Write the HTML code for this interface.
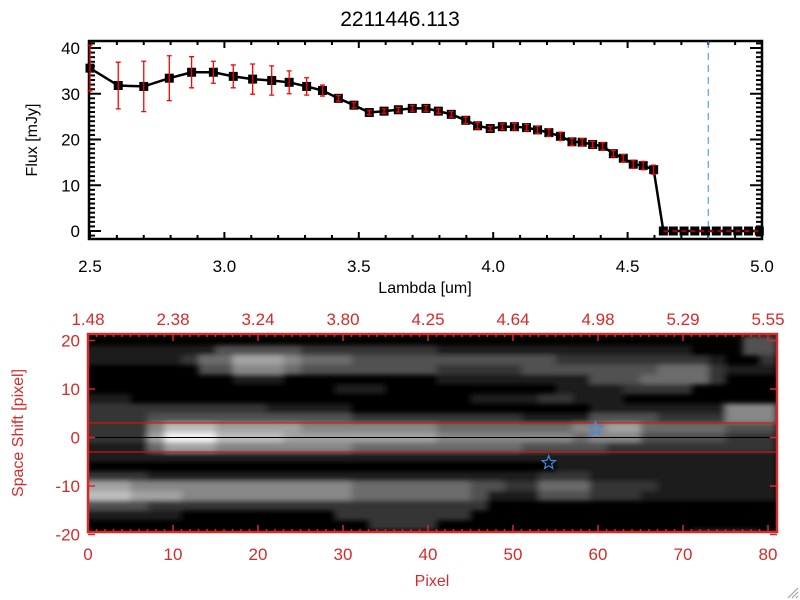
<!DOCTYPE html>
<html><head><meta charset="utf-8"><style>
html,body{margin:0;padding:0;background:#fff}
svg{display:block;font-family:"Liberation Sans",sans-serif}
</style></head><body>
<svg id="c" width="800" height="600" viewBox="0 0 800 600" xmlns="http://www.w3.org/2000/svg">
<defs>
<filter id="blur" x="-5%" y="-5%" width="110%" height="110%"><feGaussianBlur stdDeviation="3.5,2.5"/></filter>
<clipPath id="imgclip"><rect x="88" y="334" width="689" height="198"/></clipPath>
</defs>
<text x="400" y="26" font-size="21" text-anchor="middle">2211446.113</text>
<g id="topg"></g>
<g id="botg"></g>
<path d="M788 598 L798 588 M792 598 L798 592 M796 598 L798 596" stroke="#999" stroke-width="1"/>
</svg>
<script>
const NS="http://www.w3.org/2000/svg";
function mk(tag,attrs,parent){const e=document.createElementNS(NS,tag);for(const k in attrs)e.setAttribute(k,attrs[k]);parent.appendChild(e);return e;}

// ---------- Top chart data ----------
const lambda=[2.50,2.605,2.70,2.795,2.878,2.959,3.033,3.105,3.176,3.241,3.306,3.365,3.424,3.482,3.539,3.594,3.647,3.699,3.75,3.796,3.844,3.898,3.942,3.989,4.034,4.079,4.124,4.165,4.207,4.25,4.293,4.331,4.37,4.408,4.447,4.484,4.521,4.558,4.597,4.633,4.67,4.71,4.75,4.79,4.83,4.87,4.91,4.95,4.99];
const flux=[35.6,31.8,31.6,33.4,34.7,34.7,33.8,33.2,32.9,32.5,31.6,30.7,29.0,27.5,25.9,26.2,26.5,26.8,26.8,26.2,25.5,24.2,23.0,22.4,22.8,22.8,22.6,22.1,21.5,20.7,19.5,19.4,18.9,18.5,16.9,15.9,14.6,14.3,13.4,0,0,0,0,0,0,0,0,0,0];
const fluxErr=[5.0,5.1,5.5,4.9,3.4,2.4,2.5,3.3,3.2,2.5,1.9,1.2,0.6,0.6,0.5,0.5,0.5,0.6,0.6,0.5,0.6,0.7,0.7,0.5,0.6,0.7,0.7,0.8,0.8,0.9,0.8,0.8,0.7,0.8,0.7,0.8,0.9,0.9,1.0,0,0,0,0,0,0,0,0,0,0];
const xTicks=[2.5,3.0,3.5,4.0,4.5,5.0];
const yTicks=[0,10,20,30,40];
const cutLambda=4.8;

const T={l:89,r:762,t:41,b:239};
const tx=v=>90+(v-2.5)*268.8;
const ty=v=>231-v*4.575;
const topG=document.getElementById('topg');
for(let v=2.5;v<=5.0001;v+=0.1){const major=Math.abs(v*2-Math.round(v*2))<1e-6;const L=major?7:4;const x=tx(v);
 mk('line',{x1:x,x2:x,y1:T.b,y2:T.b-L,stroke:'#000','stroke-width':2},topG);
 mk('line',{x1:x,x2:x,y1:T.t,y2:T.t+L,stroke:'#000','stroke-width':2},topG);}
for(let v=-1;v<=41;v+=1){const major=v%10===0;const L=major?12:6;const y=ty(v);
 mk('line',{x1:T.l,x2:T.l+L,y1:y,y2:y,stroke:'#000','stroke-width':2},topG);
 mk('line',{x1:T.r,x2:T.r-L,y1:y,y2:y,stroke:'#000','stroke-width':2},topG);}
const fr=mk('rect',{x:T.l,y:T.t,width:T.r-T.l,height:T.b-T.t,fill:'none',stroke:'#000','stroke-width':2.5},topG);

xTicks.forEach(v=>{const t=mk('text',{x:tx(v),y:272,'font-size':17,'text-anchor':'middle'},topG);t.textContent=v.toFixed(1);
 
 });
yTicks.forEach(v=>{const t=mk('text',{x:80,y:ty(v)+6,'font-size':17,'text-anchor':'end'},topG);t.textContent=v;
 
 });
let t1=mk('text',{x:425,y:293,'font-size':16,'text-anchor':'middle'},topG);t1.textContent='Lambda [um]';

let t2=mk('text',{x:0,y:0,'font-size':16,'text-anchor':'middle',transform:'translate(37,140) rotate(-90)'},topG);t2.textContent='Flux [mJy]';

const cl=mk('line',{x1:tx(cutLambda),x2:tx(cutLambda),y1:T.t,y2:T.b,stroke:'#3a8ee0','stroke-width':1,'stroke-dasharray':'7,5'},topG);

const ln=mk('polyline',{points:lambda.map((v,i)=>tx(v)+','+ty(flux[i])).join(' '),fill:'none',stroke:'#000','stroke-width':2.5},topG);

lambda.forEach((v,i)=>{const x=tx(v),y=ty(flux[i]);
 const s=mk('rect',{x:x-4.5,y:y-4.5,width:9,height:9,fill:'#000'},topG);
 
 
 if(fluxErr[i]>0){const y1=ty(flux[i]+fluxErr[i]),y2=ty(flux[i]-fluxErr[i]);
  const e=mk('path',{d:`M${x} ${y1}V${y2}M${x-2.5} ${y1}H${x+2.5}M${x-2.5} ${y2}H${x+2.5}`,stroke:'#f00','stroke-width':1.3,fill:'none'},topG);
  
  }
});
const zl=mk('line',{x1:tx(4.633),x2:T.r,y1:ty(0),y2:ty(0),stroke:'#f00','stroke-width':1.3,'stroke-dasharray':'5,4'},topG);

</script>
<script>
// ---------- Bottom image data ----------
const pixTicks=[0,10,20,30,40,50,60,70,80];
const waveLabels=['1.48','2.38','3.24','3.80','4.25','4.64','4.98','5.29','5.55'];
const shiftTicks=[20,10,0,-10,-20];
const extractLines=[3,-3];
const stars=[[59.7,1.8],[54.2,-5.2]];
const rowY=[20,18,16,14,12,10,8,6,4,2,0,-2,-4,-6,-8,-10,-12,-14,-16,-18,-20];
const rowSegs=[
 [[78,80,3]],
 [[0,14,1],[16,24,3],[26,40,2],[42,70,1],[78,80,3]],
 [[0,10,1],[12,12,2],[14,16,4],[18,22,6],[24,24,5],[26,30,4],[32,54,3],[56,72,2],[74,74,1],[80,80,2]],
 [[14,16,3],[18,22,5],[24,24,4],[26,40,3],[42,50,2],[52,66,3],[68,72,4],[74,74,2],[76,80,1]],
 [[18,22,1],[42,58,1],[60,64,3],[66,72,4],[74,74,2]],
 [[30,34,1],[56,62,1],[64,70,2]],
 [[0,4,1],[46,52,1],[54,56,2],[58,62,1]],
 [[0,20,2],[22,30,1],[60,74,1],[76,80,5]],
 [[0,6,2],[8,30,3],[32,50,2],[52,58,1],[60,66,3],[68,74,2],[76,80,5]],
 [[0,6,2],[8,8,5],[10,14,7],[16,24,6],[26,40,5],[42,56,4],[58,60,5],[62,64,6],[66,74,4],[76,80,3]],
 [[0,6,2],[8,8,6],[10,14,9],[16,22,7],[24,40,6],[42,56,5],[58,58,4],[60,64,5],[66,74,3],[76,80,2]],
 [[0,6,1],[8,8,4],[10,14,6],[16,30,5],[32,50,4],[52,60,3],[62,80,2]],
 [[0,80,1]],
 [[56,80,1]],
 [[0,6,2],[8,52,1],[54,58,2],[60,80,1]],
 [[0,4,6],[6,30,5],[32,44,4],[46,48,3],[50,52,2],[54,58,4],[60,66,2],[68,80,1]],
 [[0,4,7],[6,10,6],[12,30,5],[32,44,4],[46,46,3],[48,52,1],[54,58,3],[60,64,2],[66,80,1]],
 [[0,6,3],[8,46,2]],
 [[0,10,1],[30,44,2]],
 [[34,40,2]],
 [[72,78,2]]
];
const B={l:88,r:777,t:334,b:532};
const bx=p=>88+p*8.5;
const by=v=>437.5-v*4.85;
const botG=document.getElementById('botg');
const RED='#d42a2a';
mk('rect',{x:B.l,y:B.t,width:B.r-B.l,height:B.b-B.t,fill:'#000'},botG);
const clipG=mk('g',{'clip-path':'url(#imgclip)'},botG);
const cells=mk('g',{filter:'url(#blur)'},clipG);


rowY.forEach((yv,ri)=>{rowSegs[ri].forEach(sg=>{for(let p=sg[0];p<=sg[1];p+=2){const g=Math.round(sg[2]*27);
 const x0=bx(p-1),x1=bx(p+1),y0=by(yv+1),y1=by(yv-1);
 const c=mk('rect',{x:x0,y:y0,width:x1-x0+0.3,height:y1-y0+0.3,fill:`rgb(${g},${g},${g})`},cells);
 
 }});});
const zl2=mk('line',{x1:B.l,x2:B.r,y1:by(0),y2:by(0),stroke:'#000','stroke-width':1},botG);

extractLines.forEach(v=>{const l=mk('line',{x1:B.l,x2:B.r,y1:by(v),y2:by(v),stroke:'#e01010','stroke-width':1.2},botG);
 
 });
function starPath(cx,cy,R,r){let d='';for(let i=0;i<10;i++){const a=-Math.PI/2+i*Math.PI/5,rr=i%2?r:R;d+=(i?'L':'M')+(cx+rr*Math.cos(a)).toFixed(1)+' '+(cy+rr*Math.sin(a)).toFixed(1);}return d+'Z';}
stars.forEach(s=>{const p=mk('path',{d:starPath(bx(s[0]),by(s[1]),7,3),fill:'none',stroke:'#3a8ee0','stroke-width':1.2},botG);
 
 });
for(let p=0;p<=81;p++){const L=p%10===0?7:3;const x=bx(p);
 mk('line',{x1:x,x2:x,y1:B.b,y2:B.b-L,stroke:RED,'stroke-width':1.5},botG);
 mk('line',{x1:x,x2:x,y1:B.t,y2:B.t+L,stroke:RED,'stroke-width':1.5},botG);}
shiftTicks.forEach(v=>{const y=by(v);mk('line',{x1:B.l,x2:B.l+7,y1:y,y2:y,stroke:RED,'stroke-width':1.5},botG);
 mk('line',{x1:B.r,x2:B.r-7,y1:y,y2:y,stroke:RED,'stroke-width':1.5},botG);});
const f2=mk('rect',{x:B.l,y:B.t,width:B.r-B.l,height:B.b-B.t,fill:'none',stroke:RED,'stroke-width':2.5},botG);

pixTicks.forEach((p,i)=>{const t=mk('text',{x:bx(p),y:560,'font-size':17,'text-anchor':'middle',fill:RED},botG);t.textContent=p;
 
 
 const w=mk('text',{x:bx(p),y:325,'font-size':17,'text-anchor':'middle',fill:RED},botG);w.textContent=waveLabels[i];
 
 });
shiftTicks.forEach(v=>{const t=mk('text',{x:80,y:by(v)+6,'font-size':17,'text-anchor':'end',fill:RED},botG);t.textContent=v;
 
 });
let t3=mk('text',{x:432,y:586,'font-size':16,'text-anchor':'middle',fill:RED},botG);t3.textContent='Pixel';

let t4=mk('text',{x:0,y:0,'font-size':16,'text-anchor':'middle',fill:RED,transform:'translate(23,433) rotate(-90)'},botG);t4.textContent='Space Shift [pixel]';

</script>
</body></html>
